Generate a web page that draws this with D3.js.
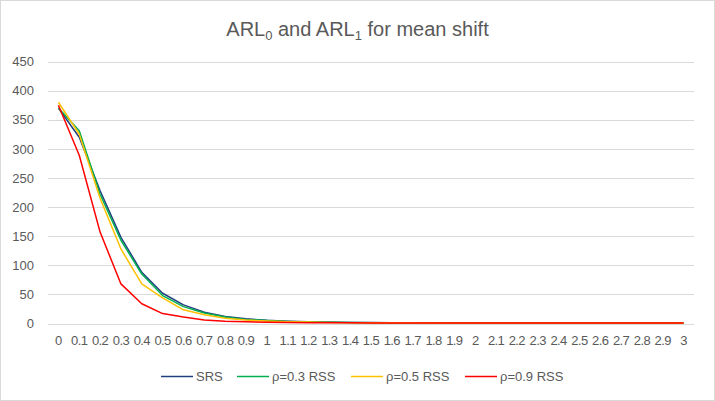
<!DOCTYPE html>
<html>
<head>
<meta charset="utf-8">
<script src="https://cdn.jsdelivr.net/npm/d3@7"></script>
<style>
  body { margin: 0; background: #fff; }
  svg { display: block; font-family: "Liberation Sans", Arial, sans-serif; }
</style>
</head>
<body>
<svg id="chart" width="715" height="401"></svg>
<script>
const categories = ["0","0.1","0.2","0.3","0.4","0.5","0.6","0.7","0.8","0.9","1","1.1","1.2","1.3","1.4","1.5","1.6","1.7","1.8","1.9","2","2.1","2.2","2.3","2.4","2.5","2.6","2.7","2.8","2.9","3"];
const srs   = [370, 320, 228, 148, 88, 52, 32, 19.5, 12, 8, 5.5, 4, 3, 2.4, 1.9, 1.6, 1.4, 1.2, 1.1, 1.05, 1.02, 1.01, 1, 1, 1, 1, 1, 1, 1, 1, 1];
const rss03 = [370, 331, 222, 143, 85, 48, 29, 18, 11, 7, 5, 3.6, 2.7, 2.1, 1.7, 1.4, 1.25, 1.15, 1.08, 1.04, 1.02, 1.01, 1, 1, 1, 1, 1, 1, 1, 1, 1];
const rss05 = [380, 325, 215, 128, 68, 44, 23.5, 15, 9, 6, 4.2, 3.1, 2.4, 1.9, 1.5, 1.3, 1.15, 1.08, 1.04, 1.02, 1.01, 1, 1, 1, 1, 1, 1, 1, 1, 1, 1];
const rss09 = [375, 289, 157, 68, 34, 17, 11, 6, 4, 2.8, 2.1, 1.7, 1.4, 1.2, 1.1, 1.05, 1.02, 1.01, 1, 1, 1, 1, 1, 1, 1, 1, 1, 1, 1, 1, 1];
const seriesNames = ["SRS", "ρ=0.3 RSS", "ρ=0.5 RSS", "ρ=0.9 RSS"];
const seriesColors = ["#203F7F", "#00B050", "#FFC000", "#FF0000"];
const yTicks = [0, 50, 100, 150, 200, 250, 300, 350, 400, 450];

const series = [srs, rss03, rss05, rss09].map((v, i) => ({ name: seriesNames[i], color: seriesColors[i], values: v }));

const svg = d3.select("#chart");
const W = 715, H = 401;
const textColor = "#595959";

// chart border
svg.append("rect").attr("x", 0.5).attr("y", 0.5).attr("width", W - 1).attr("height", H - 1)
  .attr("fill", "#fff").attr("stroke", "#D9D9D9");

const plotL = 48, plotR = 694, plotT = 61.5, plotB = 323.5;

const x = d3.scaleBand().domain(categories).range([plotL, plotR]).padding(0);
const y = d3.scaleLinear().domain([0, 450]).range([plotB, plotT]);

// title
const title = svg.append("text").attr("x", W / 2).attr("y", 36).attr("text-anchor", "middle")
  .attr("fill", textColor).attr("font-size", 20);
title.append("tspan").text("ARL");
title.append("tspan").text("0").attr("font-size", 13).attr("dy", 4);
title.append("tspan").text(" and ARL").attr("dy", -4);
title.append("tspan").text("1").attr("font-size", 13).attr("dy", 4);
title.append("tspan").text(" for mean shift").attr("dy", -4);

// gridlines
svg.append("g").selectAll("line").data(yTicks).join("line")
  .attr("x1", plotL).attr("x2", plotR)
  .attr("y1", d => Math.round(y(d)) + 0.5).attr("y2", d => Math.round(y(d)) + 0.5)
  .attr("stroke", "#D9D9D9").attr("stroke-width", 1);

// y axis labels
const yAxis = d3.axisLeft(y).tickValues(yTicks).tickSize(0).tickPadding(0);
const yg = svg.append("g").attr("transform", `translate(${plotL - 14},0)`).call(yAxis);
yg.select(".domain").remove();
yg.selectAll("text").attr("fill", textColor).attr("font-size", 13)
  .attr("font-family", "Liberation Sans, Arial, sans-serif");

// x axis labels
const xAxis = d3.axisBottom(x).tickSize(0).tickPadding(0);
const xg = svg.append("g").attr("transform", `translate(0,${plotB + 12})`).call(xAxis);
xg.select(".domain").remove();
xg.selectAll("text").attr("fill", textColor).attr("font-size", 13)
  .attr("font-family", "Liberation Sans, Arial, sans-serif").attr("letter-spacing", -0.6);

// lines
const line = d3.line().x((d, i) => x(categories[i]) + x.bandwidth() / 2).y(d => y(d));
svg.append("g").selectAll("path").data(series).join("path")
  .attr("d", d => line(d.values))
  .attr("fill", "none").attr("stroke", d => d.color).attr("stroke-width", 1.5)
  .attr("stroke-linejoin", "round");

// legend
const legendX = [161, 237, 351, 465];
const lg = svg.append("g").selectAll("g").data(series).join("g")
  .attr("transform", (d, i) => `translate(${legendX[i]},376.5)`);
lg.append("line").attr("x1", 0).attr("x2", 32).attr("y1", 0).attr("y2", 0)
  .attr("stroke", d => d.color).attr("stroke-width", 1.5);
lg.append("text").attr("x", 35).attr("y", 4.5).attr("fill", textColor).attr("font-size", 13)
  .text(d => d.name);
</script>
</body>
</html>
